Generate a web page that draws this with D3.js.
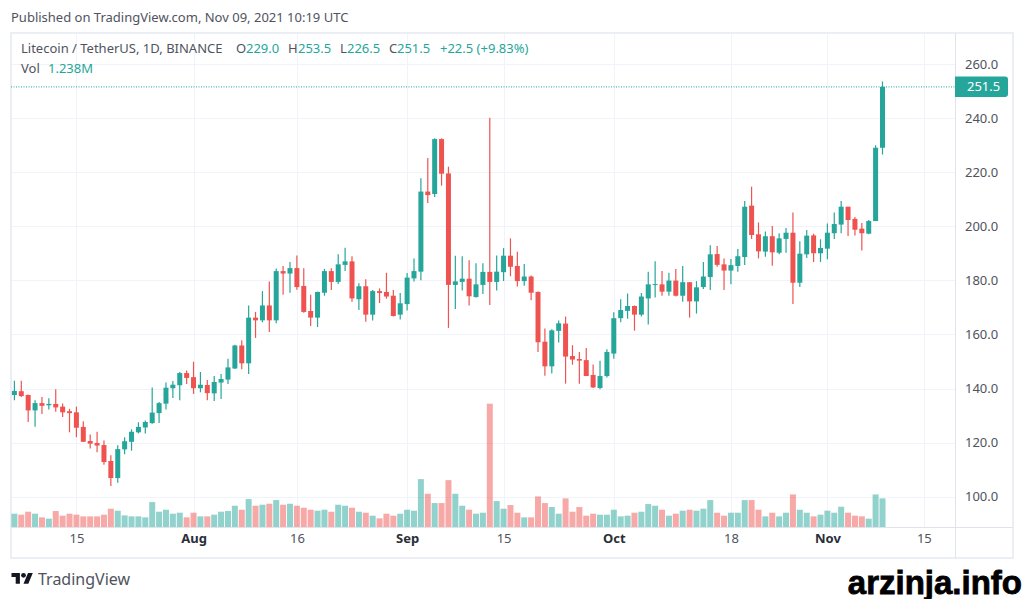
<!DOCTYPE html>
<meta charset="utf-8">
<style type="text/css">
html, body { margin: 0; background: #fff; overflow: hidden; }
text { font-family: "Noto Sans", sans-serif; }
.chart__axis path { stroke: none; }
.chart__axis line { stroke: none; }
.chart__axis text { fill: #50535e; font-size: 13px; }
.chart__grid path { stroke: none; }
.chart__grid line { stroke: #f0f3fa; stroke-width: 1; shape-rendering: crispEdges; }
.chart__grid text { display: none; }
.frame { stroke: #eceef5; stroke-width: 1.5; fill: none; shape-rendering: crispEdges; }
.sep { stroke: #e0e3eb; stroke-width: 1; shape-rendering: crispEdges; }
.wick { stroke-width: 1.2; }
</style>
<body>
<script src="https://d3js.org/d3.v7.min.js"></script>
<script>
// daily candles, Jul 6 - Nov 9 2021
var startDay = new Date(Date.UTC(2021, 6, 6)), endDay = new Date(Date.UTC(2021, 10, 9));

var opens = [137.6,139,137.6,131.9,134.6,133.8,134.3,133.3,131.6,131.2,
  125.8,120.6,119.85,119.1,113.2,106.9,117.5,120.3,123.8,125.6,
  127.2,130.9,134.4,140.1,141.2,145.7,144.2,140.1,141.3,138.2,
  142.2,143.3,147.4,155.9,149.3,166.2,165.2,170.7,165.2,183.4,
  182.5,184.5,177.9,168.65,166.2,175.4,183.4,179.4,185.7,187,
  173,177.8,167.3,176,175.7,174.3,167.3,171.2,180.7,183.2,
  212.8,211.9,232.2,219.5,178.3,179.4,180.6,173.8,178.3,183.1,
  179.4,183,189.1,185.3,179.7,181.4,175.7,157.3,148.2,161.3,
  164,152,150.9,150.5,145,140.2,144.6,152.9,166,168.7,
  170.5,167.3,173.3,178.3,178.5,175.8,179.9,174.3,179.3,172.2,
  177.5,181.2,189.7,185.9,183.6,185.3,188.6,207.6,197,190.6,
  196.3,190.2,195.3,197.6,179.1,189.6,196.6,190,191.7,197.4,
  200.6,207.2,202.7,199.1,197.25,201.9,229];

var closes = [139.1,137.2,131.9,134.6,133.6,134.3,133,131.2,130.9,125.5,
  120.3,119.6,118.9,112.8,106.9,117.6,120.5,124,125.8,127.6,
  131.1,134.6,140.3,141.4,145.7,143.9,140.1,141.4,138.3,142.4,
  143.5,147.8,155.9,149.3,166.2,165.2,170.7,165.2,183.4,182.5,
  184.5,177.5,168.3,166.2,175.7,183.4,179.4,185.9,187,173.3,
  177.8,167.3,176,175.3,174,166.8,171.5,181,183.4,212.8,
  211.5,232.2,219.4,178.3,179.6,180.6,174.1,178.5,183.1,179.4,
  183.2,189.1,185,179.7,181.4,175.4,157.1,148.2,161.5,164.1,
  151.8,150.7,150.3,144.6,140.4,144.6,153.5,166,169,170.5,
  167.3,174,178.5,178.6,175.8,179.9,174.3,179.3,172.2,177.4,
  181.4,189.6,185.7,183.6,185.6,188.9,207.2,196.75,190.7,196.3,
  190.35,195.5,197.6,179.1,189.85,196.5,190,191.95,197.6,200.8,
  207.2,202.3,198.7,197.4,201.9,229,251.5];

var highs = [142.9,142.9,137.8,135.7,136.9,136.4,139.7,134.5,132.5,133.3,
  127.9,123,124,120.8,115.3,119,122,124.9,127.5,128.2,
  140.4,135,142.2,142.8,146.1,146.7,149.9,146.1,143.1,144.6,
  145.4,151,156.2,157.8,170.7,168.3,176,179.6,184.4,185.3,
  186.8,189.2,184.5,174.7,175.8,184.2,184.5,189.6,192,188.9,
  178.9,180.4,176.4,177,182.8,176.4,175.3,182.7,188.1,217.7,
  225.2,232.5,232.5,222,189.1,188.9,187.4,186.3,186.3,240.1,
  189.2,191.9,195.5,190.6,186,181.8,175.9,162.2,161.9,165.1,
  166.6,156,153.5,155,148.9,150.3,154.5,168.2,173,175.1,
  170.7,175.3,183.2,187,183.4,182.8,184.2,185.3,179.3,179.7,
  186.8,193,192.7,188.1,187.9,191.6,209.3,214.6,201.4,198,
  200.1,197.4,199.3,205.1,194.4,198.6,197.25,195.15,201,205.1,
  209.3,207.2,203.4,201.2,202.3,229.9,253.5];

var lows = [135.7,136.9,127.6,125.9,130.6,132.2,131.4,129.5,123.8,122,
  120.2,117.8,116.4,111.8,104,105.2,115.7,117,123.4,123.4,
  127,127.2,132.2,136.5,135.7,141.7,138,138.6,135.7,135.4,
  136.1,141.7,147.2,147.1,145.4,158.7,164.5,160.9,164.1,174.7,
  175.4,176.5,168,163.1,162.7,174.3,176.4,178.6,183.4,172.1,
  169,164.7,165.1,171.6,173.2,166.6,165.5,168.8,179.6,180,
  208.6,210.8,215,162.4,169.4,176.2,170.7,173.6,174.9,170.9,
  176.2,179.7,181.5,177.7,178,172.6,153.5,144.7,145.5,157,
  141.8,148.8,141.8,144.6,140.2,139.7,144.1,151,164.5,165.8,
  161.4,166.6,163.7,173.6,174.3,174.3,174,172.1,166.2,167.7,
  176.8,176.4,185,176.4,178.5,183.2,185.7,195.3,188.1,188.7,
  185.4,189.6,190.2,171.2,177.5,188.25,186.8,186.8,187.75,195.3,
  197.4,196.4,196.6,191,197,201.9,226.5];

// volume in millions
var volumes = [.576,.533,.662,.576,.418,.36,.691,.49,.576,.533,
  .461,.461,.461,.533,.792,.706,.504,.461,.461,.418,
  1.08,.662,.749,.576,.619,.418,.619,.461,.461,.533,
  .662,.691,.922,.749,1.21,.922,.965,1.008,1.166,.965,
  1.008,.922,.835,.749,.706,.749,.662,.965,.922,.835,
  .662,.619,.49,.374,.576,.49,.576,.749,.706,2.074,
  1.44,1.037,1.037,2.03,1.44,.922,.749,.576,.619,5.342,
  1.123,.792,.95,.619,.418,.418,1.325,1.037,.864,.576,
  1.238,.662,.864,.49,.576,.533,.533,.749,.461,.49,
  .619,.662,.994,.922,.749,.49,.576,.706,.749,.706,
  .792,1.166,.619,.49,.619,.619,1.166,1.166,.749,.461,
  .619,.461,.619,1.411,.749,.619,.461,.533,.706,.619,
  .878,.619,.49,.461,.36,1.411,1.238];

var priceTicks = [100,120,140,160,180,200,220,240,260];
var timeTicks = ["2021-07-15","2021-08-01","2021-08-16","2021-09-01","2021-09-15","2021-10-01","2021-10-18","2021-11-01","2021-11-15"];
var timeLabels = ["15","Aug","16","Sep","15","Oct","18","Nov","15"];
var lastPrice = 251.5;

var upColor = "#26a69a", downColor = "#ef5350";

var width = 1024, height = 599;
var pane = {left: 11, right: 955, top: 33, bottom: 527, frameRight: 1013, frameBottom: 558};

var days = d3.utcDay.range(startDay, d3.utcDay.offset(endDay, 1));
var tickDates = timeTicks.map(function(d) { return new Date(d + "T00:00:00Z"); });

var xScale = d3.scaleUtc().domain([startDay, endDay]).range([14.4, 882.5]);
var yScale = d3.scaleLinear().domain([100, 260]).range([496.7, 63.9]);
var volScale = d3.scaleLinear().domain([0, 5.342]).range([527, 403.7]);

var svg = d3.select("body").append("svg").attr("width", width).attr("height", height).style("display", "block");

// grid
svg.append("g").attr("class", "chart__grid")
    .attr("transform", "translate(" + pane.left + ",0)")
    .call(d3.axisRight(yScale).tickValues(priceTicks).tickSize(pane.right - pane.left).tickFormat(""));
svg.append("g").attr("class", "chart__grid")
    .attr("transform", "translate(0," + pane.top + ")")
    .call(d3.axisBottom(xScale).tickValues(tickDates).tickSize(pane.bottom - pane.top).tickFormat(""));

// frame and separators
svg.append("rect").attr("class", "frame")
    .attr("x", pane.left).attr("y", pane.top)
    .attr("width", pane.frameRight - pane.left).attr("height", pane.frameBottom - pane.top);
svg.append("line").attr("class", "sep").attr("x1", pane.right).attr("x2", pane.right).attr("y1", pane.top).attr("y2", pane.frameBottom);
svg.append("line").attr("class", "sep").attr("x1", pane.left).attr("x2", pane.frameRight).attr("y1", pane.bottom).attr("y2", pane.bottom);

// volume
svg.append("g").selectAll("rect").data(days).enter().append("rect")
    .attr("x", function(d) { return xScale(d) - 3; })
    .attr("width", 6)
    .attr("y", function(d, i) { return volScale(volumes[i]); })
    .attr("height", function(d, i) { return volScale(0) - volScale(volumes[i]); })
    .attr("fill", function(d, i) { return closes[i] >= opens[i] ? upColor : downColor; })
    .attr("fill-opacity", 0.5);

// last price dotted line
svg.append("line")
    .attr("x1", pane.left).attr("x2", pane.right)
    .attr("y1", yScale(lastPrice)).attr("y2", yScale(lastPrice))
    .attr("stroke", upColor).attr("stroke-width", 1).attr("stroke-dasharray", "1 1.5");

// candles
var candle = svg.append("g").selectAll("g").data(days).enter().append("g")
    .attr("fill", function(d, i) { return closes[i] >= opens[i] ? upColor : downColor; })
    .attr("stroke", function(d, i) { return closes[i] >= opens[i] ? upColor : downColor; });
candle.append("line").attr("class", "wick")
    .attr("x1", function(d) { return xScale(d); })
    .attr("x2", function(d) { return xScale(d); })
    .attr("y1", function(d, i) { return yScale(highs[i]); })
    .attr("y2", function(d, i) { return yScale(lows[i]); });
candle.append("rect").attr("stroke", "none")
    .attr("x", function(d) { return xScale(d) - 2.5; })
    .attr("width", 5)
    .attr("y", function(d, i) { return yScale(Math.max(opens[i], closes[i])); })
    .attr("height", function(d, i) { return Math.max(1, Math.abs(yScale(opens[i]) - yScale(closes[i]))); });

// axes
svg.append("g").attr("class", "chart__axis")
    .attr("transform", "translate(" + pane.right + ",0)")
    .call(d3.axisRight(yScale).tickValues(priceTicks).tickSize(0).tickPadding(10).tickFormat(d3.format(".1f")));

svg.append("g").attr("class", "chart__axis")
    .attr("transform", "translate(0," + pane.bottom + ")")
    .call(d3.axisBottom(xScale).tickValues(tickDates).tickSize(0).tickPadding(7)
        .tickFormat(function(d, i) { return timeLabels[i]; }))
    .selectAll("text")
    .style("font-weight", function(d, i) { return isNaN(+timeLabels[i]) ? "700" : "400"; })
    .style("fill", function(d, i) { return isNaN(+timeLabels[i]) ? "#2a2e39" : "#50535e"; });

// last price label
svg.append("path")
    .attr("d", "M955 " + 76.5 + "H1005a3 3 0 0 1 3 3V94a3 3 0 0 1 -3 3H955Z")
    .attr("fill", upColor);
svg.append("text").attr("x", 967).attr("y", yScale(lastPrice) + 4.5)
    .attr("fill", "#fff").attr("font-size", 13).text(d3.format(".1f")(lastPrice));

// header and legend
function label(x, y, txt, color, size) {
    return svg.append("text").attr("x", x).attr("y", y).attr("fill", color)
        .attr("font-size", size || 13).text(txt);
}
label(11, 22, "Published on TradingView.com, Nov 09, 2021 10:19 UTC", "#50535e");
label(21, 53, "Litecoin / TetherUS, 1D, BINANCE", "#50535e");
label(236, 53, "O", "#50535e");
label(246, 53, "229.0", upColor);
label(288, 53, "H", "#50535e");
label(298, 53, "253.5", upColor);
label(340, 53, "L", "#50535e");
label(347, 53, "226.5", upColor);
label(389, 53, "C", "#50535e");
label(397, 53, "251.5", upColor);
label(440, 53, "+22.5 (+9.83%)", upColor);
label(21, 73, "Vol", "#50535e");
label(48, 73, "1.238M", upColor);

// logo
svg.append("path")
    .attr("transform", "translate(11.5,570.5) scale(0.6)")
    .attr("fill", "#131722")
    .attr("d", "M14 22H7V11H0V4h14v18zM28 22h-8l7.5-18h8L28 22z");
svg.append("circle").attr("cx", 11.5 + 20 * 0.6).attr("cy", 570.5 + 8 * 0.6).attr("r", 2.4).attr("fill", "#131722");
label(38, 585, "TradingView", "#50535e", 16);

// watermark
svg.append("text").attr("x", 1022).attr("y", 594).attr("text-anchor", "end")
    .attr("fill", "#000").attr("font-size", 33).attr("font-weight", 700)
    .style("font-family", "'Liberation Sans', Arial, sans-serif")
    .attr("stroke", "#000").attr("stroke-width", 0.8)
    .text("arzinja.info");
</script>
</body>
